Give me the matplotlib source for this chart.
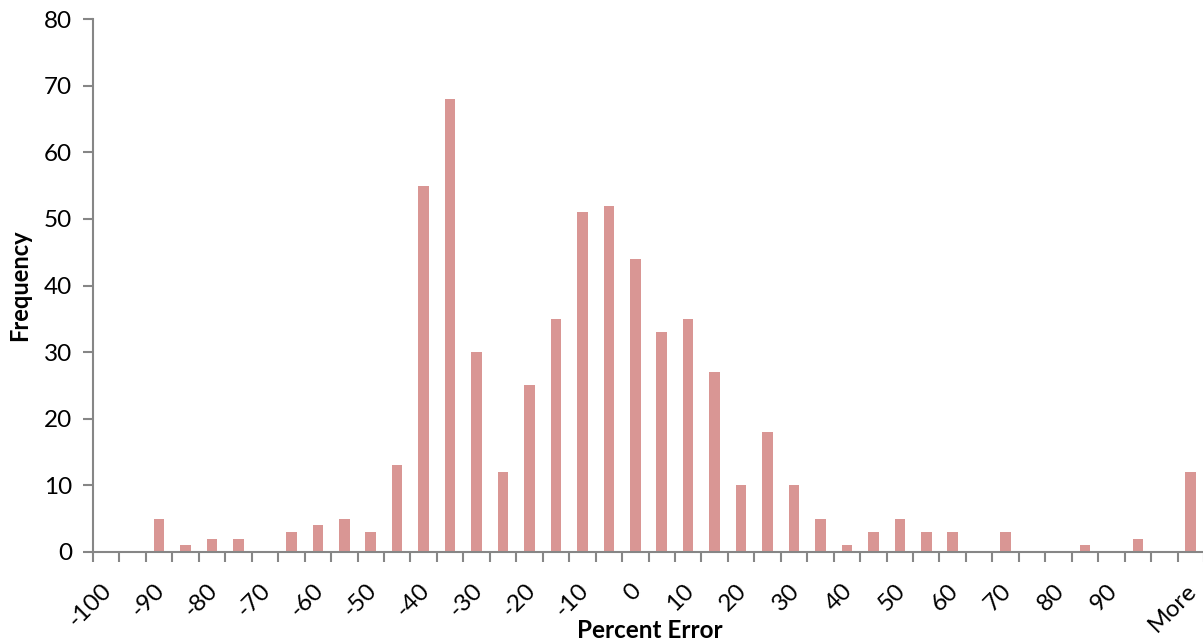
import numpy as np
import matplotlib
matplotlib.use("Agg")
import matplotlib.pyplot as plt
from matplotlib.transforms import ScaledTranslation

# histogram bins (upper edge, step 5) plus the overflow bin
bins = [str(b) for b in range(-100, 105, 5)] + ["More"]
frequency = [0, 0, 5, 1, 2, 2, 0, 3, 4, 5, 3, 13, 55, 68, 30, 12, 25, 35, 51, 52,
             44, 33, 35, 27, 10, 18, 10, 5, 1, 3, 5, 3, 3, 0, 3, 0, 0, 1, 0, 2,
             0, 12]
# only every other bin is labelled, and the overflow bin
shown_labels = [str(b) for b in range(-100, 100, 10)] + ["More"]

plt.rcParams['font.family'] = ['Lato', 'DejaVu Sans']
axis_grey = "#868686"

fig = plt.figure(figsize=(12.03, 6.44), dpi=100)
ax = fig.add_axes([93 / 1203, 1 - 552 / 644, (1204 - 93) / 1203, (552 - 19) / 644])

x = np.arange(len(bins))
ax.bar(x, frequency, width=0.4, color="#D99694", zorder=2)

ax.set_xlim(-0.5, len(bins) - 0.5)
ax.set_ylim(0, 80)
ax.set_yticks(range(0, 81, 10))

# tick marks sit between the categories, labels at category centres
ax.set_xticks(np.arange(-0.5, len(bins)))
ax.set_xticklabels([])
offset = ScaledTranslation(-5 / 100, -28 / 100, fig.dpi_scale_trans)
for s in shown_labels:
    ax.text(bins.index(s), 0, s, transform=ax.get_xaxis_transform() + offset,
            rotation=45, ha="right", va="top", rotation_mode="anchor",
            fontsize=17.5)
ax.tick_params(axis="x", length=7, width=1.5, color=axis_grey)
ax.tick_params(axis="y", length=7, width=1.5, color=axis_grey, labelsize=17.5, pad=8)

for side in ["top", "right"]:
    ax.spines[side].set_visible(False)
for side in ["left", "bottom"]:
    ax.spines[side].set_color(axis_grey)
    ax.spines[side].set_linewidth(1.5)

ax.set_ylabel("Frequency", fontsize=17, fontweight="bold", labelpad=9)
fig.text(650 / 1203, 1 - 631 / 644, "Percent Error", ha="center", va="center",
         fontsize=17.5, fontweight="bold")

fig.savefig("out.png", dpi=100)
